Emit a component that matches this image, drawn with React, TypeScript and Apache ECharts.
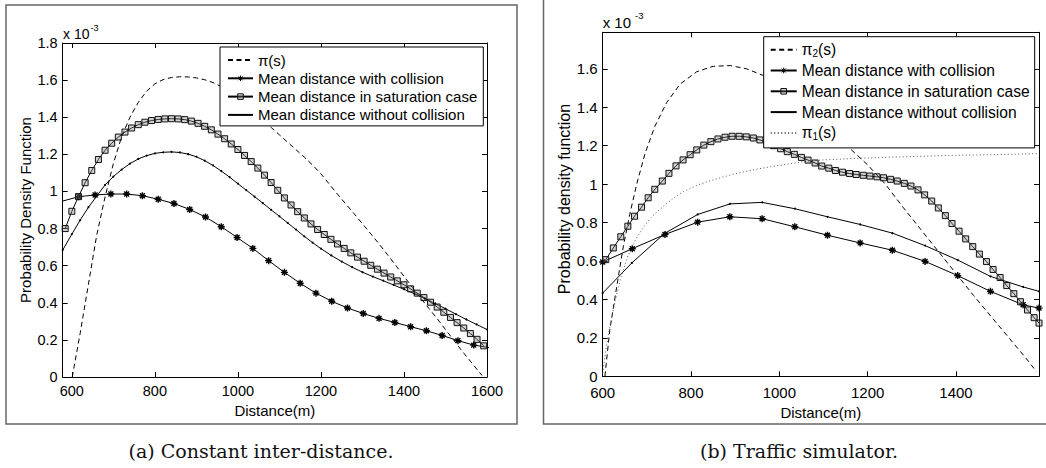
import React, { useEffect, useRef } from 'react';
import * as echarts from 'echarts';

// ---------- tick labels ----------
const xTicksA = [600, 800, 1000, 1200, 1400, 1600];
const yTicksA = [0, 0.2, 0.4, 0.6, 0.8, 1, 1.2, 1.4, 1.6, 1.8];
const xTicksB = [600, 800, 1000, 1200, 1400];
const yTicksB = [0, 0.2, 0.4, 0.6, 0.8, 1, 1.2, 1.4, 1.6];

// ---------- names ----------
const nameCollision = 'Mean distance with collision';
const nameSaturation = 'Mean distance in saturation case';
const nameWithout = 'Mean distance without collision';
const namePiA = 'π(s)';
const namePi2 = 'π2(s)';
const namePi1 = 'π1(s)';

// ---------- (a) Constant inter-distance (values x 1e-3) ----------
const piA: [number, number][] = [
  [601, 0.0], [620, 0.235], [640, 0.5], [660, 0.765], [680, 0.97], [700, 1.15], [720, 1.295],
  [740, 1.4], [760, 1.48], [780, 1.54], [800, 1.58], [820, 1.603], [840, 1.614], [860, 1.618],
  [880, 1.617], [900, 1.612], [920, 1.602], [940, 1.587], [960, 1.565], [980, 1.537],
  [1000, 1.505], [1020, 1.47], [1040, 1.43], [1060, 1.388], [1080, 1.345], [1100, 1.305],
  [1120, 1.265], [1140, 1.225], [1160, 1.185], [1180, 1.142], [1200, 1.095], [1220, 1.04],
  [1240, 0.985], [1260, 0.932], [1280, 0.88], [1300, 0.826], [1320, 0.772], [1340, 0.717],
  [1360, 0.66], [1380, 0.602], [1400, 0.543], [1420, 0.484], [1440, 0.426], [1460, 0.37],
  [1480, 0.314], [1500, 0.256], [1520, 0.198], [1540, 0.14], [1560, 0.085], [1580, 0.03],
  [1588, 0.008],
];

const collisionA: [number, number][] = [
  [576, 0.947], [617, 0.972], [656, 0.981], [694, 0.986], [732, 0.986], [770, 0.977],
  [808, 0.958], [846, 0.935], [884, 0.903], [922, 0.862], [960, 0.81], [998, 0.752],
  [1036, 0.693], [1074, 0.627], [1112, 0.564], [1150, 0.505], [1188, 0.452], [1226, 0.408],
  [1264, 0.372], [1302, 0.342], [1340, 0.316], [1378, 0.294], [1416, 0.271], [1454, 0.249],
  [1492, 0.224], [1530, 0.196], [1568, 0.172], [1606, 0.158],
];

const saturationA: [number, number][] = [
  [584, 0.8], [600, 0.893], [616, 0.972], [632, 1.047], [648, 1.113], [664, 1.172],
  [680, 1.222], [696, 1.26], [712, 1.293], [728, 1.32], [744, 1.342], [760, 1.36],
  [776, 1.373], [792, 1.382], [808, 1.388], [824, 1.391], [840, 1.392], [856, 1.391],
  [872, 1.387], [888, 1.379], [904, 1.367], [920, 1.351], [936, 1.332], [952, 1.309],
  [968, 1.284], [984, 1.256], [1000, 1.226], [1016, 1.194], [1032, 1.161], [1048, 1.126],
  [1064, 1.088], [1080, 1.048], [1096, 1.006], [1112, 0.965], [1128, 0.927], [1144, 0.891],
  [1160, 0.857], [1176, 0.825], [1192, 0.795], [1208, 0.768], [1224, 0.742], [1240, 0.717],
  [1256, 0.693], [1272, 0.669], [1288, 0.646], [1304, 0.624], [1320, 0.602], [1336, 0.581],
  [1352, 0.56], [1368, 0.539], [1384, 0.518], [1400, 0.497], [1416, 0.475], [1432, 0.452],
  [1448, 0.428], [1464, 0.403], [1480, 0.377], [1496, 0.349], [1512, 0.321], [1528, 0.293],
  [1544, 0.264], [1560, 0.234], [1576, 0.203], [1592, 0.168],
];

const withoutA: [number, number][] = [
  [578, 0.684], [600, 0.77], [620, 0.845], [640, 0.915], [660, 0.975], [680, 1.035],
  [700, 1.08], [720, 1.118], [740, 1.15], [760, 1.175], [780, 1.193], [800, 1.205],
  [820, 1.211], [840, 1.213], [860, 1.21], [880, 1.201], [900, 1.187], [920, 1.166],
  [940, 1.14], [960, 1.11], [980, 1.077], [1000, 1.042], [1020, 1.007], [1040, 0.972],
  [1060, 0.937], [1080, 0.901], [1100, 0.866], [1120, 0.83], [1140, 0.794], [1160, 0.758],
  [1180, 0.724], [1200, 0.692], [1225, 0.655], [1250, 0.622], [1275, 0.592], [1300, 0.565],
  [1325, 0.541], [1350, 0.519], [1375, 0.496], [1400, 0.473], [1425, 0.449], [1450, 0.423],
  [1475, 0.396], [1500, 0.368], [1525, 0.339], [1550, 0.31], [1575, 0.283], [1600, 0.256],
];

// ---------- (b) Traffic simulator (values x 1e-3) ----------
const pi2B: [number, number][] = [
  [605, 0.0], [616, 0.24], [632, 0.47], [647, 0.68], [662, 0.85], [677, 1.0], [696, 1.16],
  [718, 1.3], [745, 1.425], [775, 1.52], [813, 1.585], [850, 1.613], [888, 1.617],
  [926, 1.6], [964, 1.565], [1000, 1.51], [1040, 1.44], [1080, 1.36], [1120, 1.27],
  [1160, 1.185], [1200, 1.1], [1240, 1.0], [1280, 0.88], [1320, 0.765], [1360, 0.65],
  [1400, 0.535], [1440, 0.42], [1480, 0.31], [1520, 0.2], [1560, 0.09], [1582, 0.025],
];

const collisionB: [number, number][] = [
  [600, 0.595], [667, 0.664], [741, 0.738], [815, 0.802], [888, 0.83], [961, 0.82],
  [1035, 0.778], [1109, 0.734], [1183, 0.694], [1256, 0.656], [1330, 0.598], [1404, 0.524],
  [1478, 0.442], [1552, 0.372], [1588, 0.355],
];

const saturationB: [number, number][] = [
  [607, 0.607], [624, 0.668], [641, 0.726], [657, 0.781], [672, 0.833], [688, 0.88],
  [703, 0.929], [718, 0.973], [735, 1.016], [750, 1.056], [766, 1.095], [782, 1.126],
  [798, 1.153], [813, 1.178], [829, 1.203], [845, 1.221], [861, 1.235], [877, 1.244],
  [893, 1.249], [909, 1.249], [925, 1.246], [941, 1.24], [956, 1.23], [972, 1.217],
  [987, 1.2], [1003, 1.184], [1018, 1.169], [1034, 1.155], [1050, 1.139], [1065, 1.125],
  [1081, 1.11], [1096, 1.094], [1112, 1.083], [1127, 1.071], [1143, 1.062], [1159, 1.055],
  [1174, 1.05], [1190, 1.046], [1205, 1.042], [1221, 1.038], [1236, 1.033], [1252, 1.025],
  [1267, 1.016], [1283, 1.004], [1298, 0.99], [1314, 0.97], [1329, 0.944], [1345, 0.912],
  [1360, 0.876], [1376, 0.836], [1391, 0.795], [1407, 0.755], [1422, 0.715], [1438, 0.675],
  [1453, 0.636], [1469, 0.597], [1484, 0.556], [1500, 0.514], [1515, 0.472], [1531, 0.43],
  [1546, 0.388], [1562, 0.345], [1577, 0.305], [1588, 0.277],
];

const withoutB: [number, number][] = [
  [600, 0.433], [666, 0.59], [740, 0.743], [815, 0.842], [888, 0.897], [961, 0.905],
  [1035, 0.872], [1109, 0.83], [1183, 0.79], [1256, 0.745], [1330, 0.68], [1404, 0.605],
  [1478, 0.52], [1552, 0.465], [1588, 0.442],
];

const pi1B: [number, number][] = [
  [600, 0.016], [606, 0.12], [612, 0.207], [620, 0.3], [627, 0.381], [635, 0.455],
  [642, 0.52], [650, 0.575], [657, 0.625], [668, 0.68], [679, 0.729], [694, 0.78],
  [709, 0.825], [728, 0.866], [747, 0.903], [765, 0.935], [783, 0.962], [810, 0.99],
  [835, 1.011], [865, 1.032], [895, 1.051], [925, 1.067], [956, 1.081], [987, 1.093],
  [1017, 1.103], [1050, 1.115], [1085, 1.124], [1120, 1.128], [1156, 1.132], [1200, 1.136],
  [1250, 1.14], [1308, 1.144], [1383, 1.149], [1458, 1.152], [1534, 1.156], [1588, 1.159],
];

const FONT = "'Liberation Sans', Arial, Helvetica, sans-serif";
const SERIF = "'DejaVu Serif', 'Liberation Serif', serif";
const ASTERISK = 'path://M5,0L5,10M0,5L10,5M1.5,1.5L8.5,8.5M1.5,8.5L8.5,1.5';

function xAxisPair(grid: number, min: number, max: number, ticks: number[], fs: number, margin: number) {
  const line = { show: true, onZero: false, lineStyle: { color: '#000', width: 1 } };
  return [
    {
      type: 'value', gridIndex: grid, min, max, position: 'bottom',
      axisLine: line,
      axisTick: { show: true, inside: true, length: 5, customValues: ticks, lineStyle: { color: '#000' } },
      axisLabel: {
        customValues: ticks, formatter: (v: number) => String(v), fontSize: fs, lineHeight: 12,
        color: '#000', fontFamily: FONT, margin,
      },
      splitLine: { show: false },
      name: 'Distance(m)', nameLocation: 'middle', nameGap: 21,
      nameTextStyle: { fontSize: 15, color: '#000', fontFamily: FONT },
    },
    {
      type: 'value', gridIndex: grid, min, max, position: 'top',
      axisLine: line,
      axisTick: { show: true, inside: true, length: 5, customValues: ticks, lineStyle: { color: '#000' } },
      axisLabel: { show: false },
      splitLine: { show: false },
    },
  ];
}

function yAxisPair(grid: number, max: number, ticks: number[], fs: number) {
  const line = { show: true, onZero: false, lineStyle: { color: '#000', width: 1 } };
  return [
    {
      type: 'value', gridIndex: grid, min: 0, max, position: 'left',
      axisLine: line,
      axisTick: { show: true, inside: true, length: 5, customValues: ticks, lineStyle: { color: '#000' } },
      axisLabel: {
        customValues: ticks, formatter: (v: number) => String(v), fontSize: fs, lineHeight: 11,
        color: '#000', fontFamily: FONT, margin: 5,
      },
      splitLine: { show: false },
    },
    {
      type: 'value', gridIndex: grid, min: 0, max, position: 'right',
      axisLine: line,
      axisTick: { show: true, inside: true, length: 5, customValues: ticks, lineStyle: { color: '#000' } },
      axisLabel: { show: false },
      splitLine: { show: false },
    },
  ];
}

function mkSeries(kind: string, name: string, data: [number, number][], xi: number, yi: number) {
  const base: any = {
    type: 'line', name, data, xAxisIndex: xi, yAxisIndex: yi, clip: true,
    smooth: false, emphasis: { disabled: true }, silent: true,
    lineStyle: { color: '#000', width: 1 },
    itemStyle: { color: '#000' },
  };
  if (kind === 'dash') {
    base.symbol = 'none';
    base.lineStyle = { color: '#000', width: 1, type: [5, 3.5] };
  } else if (kind === 'dot') {
    base.symbol = 'none';
    base.lineStyle = { color: '#555', width: 1, type: [1, 2.5] };
    base.itemStyle = { color: '#555' };
  } else if (kind === 'star') {
    base.symbol = ASTERISK;
    base.symbolSize = 7;
    base.itemStyle = { color: '#000', borderColor: '#000', borderWidth: 1.4 };
  } else if (kind === 'square') {
    base.symbol = 'rect';
    base.symbolSize = 6;
    base.itemStyle = { color: 'rgba(128,128,128,0.35)', borderColor: '#111', borderWidth: 1 };
  } else {
    base.symbol = 'circle';
    base.symbolSize = 2;
  }
  return base;
}

const subRich = {
  sub: { fontSize: 10, lineHeight: 6, verticalAlign: 'bottom', fontFamily: FONT, color: '#000' },
};

function legendFormatter(name: string) {
  if (name === namePi2) return 'π{sub|2}(s)';
  if (name === namePi1) return 'π{sub|1}(s)';
  return name;
}

export default function App() {
  const ref = useRef<HTMLDivElement>(null);
  useEffect(() => {
    if (!ref.current) return;
    const chart = echarts.init(ref.current, null, { renderer: 'svg' });
    const xa = xAxisPair(0, 578, 1600, xTicksA, 14.5, 8);
    const xb = xAxisPair(1, 600, 1588, xTicksB, 15, 9.8);
    const ya = yAxisPair(0, 1.8, yTicksA, 14.5);
    const yb = yAxisPair(1, 1.79, yTicksB, 15);
    const hidden = { opacity: 0 };
    const option: any = {
      animation: false,
      backgroundColor: '#fff',
      grid: [
        { left: 62.7, top: 43, width: 424.3, height: 334 },
        { left: 602.7, top: 32.3, width: 436.3, height: 344 },
      ],
      xAxis: [...xa, ...xb],
      yAxis: [...ya, ...yb],
      legend: [
        {
          left: 220, top: 47, orient: 'vertical', selectedMode: false,
          data: [
            { name: namePiA, itemStyle: hidden },
            nameCollision,
            nameSaturation,
            { name: nameWithout, itemStyle: hidden },
          ],
          itemWidth: 25, itemHeight: 7, itemGap: 2.3,
          padding: [5, 6, 3, 7],
          borderColor: '#000', borderWidth: 1, backgroundColor: '#fff',
          itemStyle: { borderWidth: 1 },
          textStyle: { fontSize: 15, lineHeight: 16, fontFamily: FONT, color: '#000', rich: subRich },
          formatter: legendFormatter,
        },
        {
          left: 763.7, top: 36.7, orient: 'vertical', selectedMode: false,
          data: [
            { name: namePi2, itemStyle: hidden },
            nameCollision,
            nameSaturation,
            { name: nameWithout, itemStyle: hidden },
            { name: namePi1, itemStyle: hidden },
          ],
          itemWidth: 26, itemHeight: 7, itemGap: 2.8,
          padding: [4, 5, 6, 6],
          borderColor: '#000', borderWidth: 1, backgroundColor: '#fff',
          itemStyle: { borderWidth: 1 },
          textStyle: { fontSize: 15.6, lineHeight: 18, fontFamily: FONT, color: '#000', rich: subRich },
          formatter: legendFormatter,
        },
      ],
      series: [
        mkSeries('dash', namePiA, piA, 0, 0),
        mkSeries('star', nameCollision, collisionA, 0, 0),
        mkSeries('square', nameSaturation, saturationA, 0, 0),
        mkSeries('plain', nameWithout, withoutA, 0, 0),
        mkSeries('dash', namePi2, pi2B, 2, 2),
        mkSeries('star', nameCollision, collisionB, 2, 2),
        mkSeries('square', nameSaturation, saturationB, 2, 2),
        mkSeries('plain', nameWithout, withoutB, 2, 2),
        mkSeries('dot', namePi1, pi1B, 2, 2),
      ],
      graphic: [
        { type: 'rect', shape: { x: 6, y: 5, width: 511, height: 419 }, style: { fill: 'none', stroke: '#666', lineWidth: 1.5 }, silent: true },
        { type: 'rect', shape: { x: 543.5, y: -20, width: 530, height: 444 }, style: { fill: 'none', stroke: '#666', lineWidth: 1.5 }, silent: true },
        { type: 'text', x: 63, y: 33.5, style: { text: 'x 10', fontSize: 14, fontFamily: FONT, fill: '#000', verticalAlign: 'middle', align: 'left' }, silent: true },
        { type: 'text', x: 90.5, y: 27.5, style: { text: '-3', fontSize: 9, fontFamily: FONT, fill: '#000', verticalAlign: 'middle', align: 'left' }, silent: true },
        { type: 'text', x: 602.7, y: 22.8, style: { text: 'x 10', fontSize: 15, fontFamily: FONT, fill: '#000', verticalAlign: 'middle', align: 'left' }, silent: true },
        { type: 'text', x: 635, y: 15.8, style: { text: '-3', fontSize: 9.5, fontFamily: FONT, fill: '#000', verticalAlign: 'middle', align: 'left' }, silent: true },
        { type: 'text', x: 25, y: 210, rotation: Math.PI / 2, style: { text: 'Probability Density Function', fontSize: 15, fontFamily: FONT, fill: '#000', verticalAlign: 'middle', align: 'center' }, silent: true },
        { type: 'text', x: 564, y: 199, rotation: Math.PI / 2, style: { text: 'Probability density function', fontSize: 16, fontFamily: FONT, fill: '#000', verticalAlign: 'middle', align: 'center' }, silent: true },
        { type: 'text', x: 261, y: 451, style: { text: '(a) Constant inter-distance.', fontSize: 19, fontFamily: SERIF, fill: '#111', verticalAlign: 'middle', align: 'center' }, silent: true },
        { type: 'text', x: 799, y: 451, style: { text: '(b) Traffic simulator.', fontSize: 19, fontFamily: SERIF, fill: '#111', verticalAlign: 'middle', align: 'center' }, silent: true },
      ],
    };
    chart.setOption(option);
    return () => chart.dispose();
  }, []);
  return (
    <div
      ref={ref}
      style={{ position: 'fixed', left: 0, top: 0, width: 1046, height: 468, background: '#fff' }}
    />
  );
}
